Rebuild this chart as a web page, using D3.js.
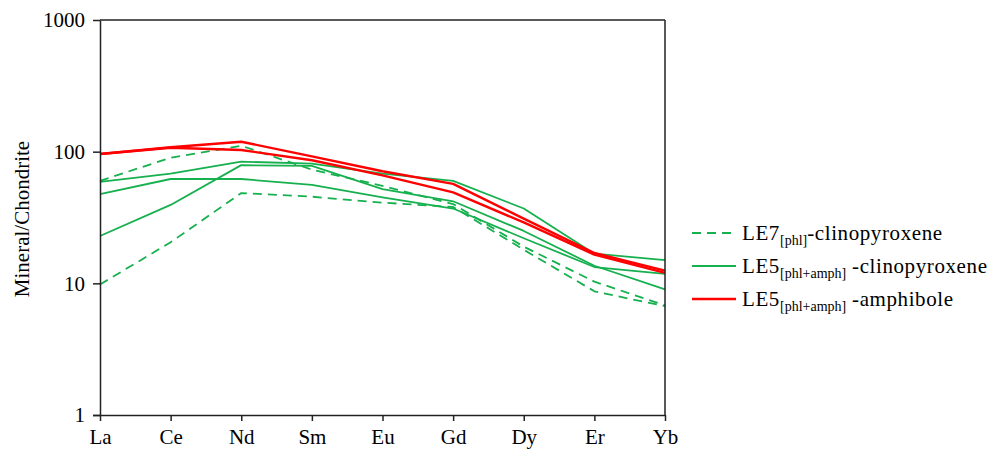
<!DOCTYPE html>
<html>
<head>
<meta charset="utf-8">
<script src="https://cdn.jsdelivr.net/npm/d3@7"></script>
<style>
  html, body { margin: 0; padding: 0; background: #fff; }
  svg { display: block; }
  text { font-family: "Liberation Serif", "Times New Roman", serif; fill: #000; }
</style>
</head>
<body>
<svg id="chart" width="994" height="450"></svg>
<script>
const elements = ["La", "Ce", "Nd", "Sm", "Eu", "Gd", "Dy", "Er", "Yb"];
const yTicks = [1, 10, 100, 1000];
const yLabel = "Mineral/Chondrite";

// LE7[phl] clinopyroxene (dashed green)
const le7Cpx1 = [60, 90, 111, 73, 55, 40, 19, 10.3, 6.8];
const le7Cpx2 = [9.8, 20.5, 48.5, 45.5, 41, 38, 18, 8.7, 6.7];
// LE5[phl+amph] clinopyroxene (solid green)
const le5Cpx1 = [59, 68, 84, 81, 68, 60, 37, 16.8, 15];
const le5Cpx2 = [47.5, 62, 62, 56, 45, 37, 22, 13.3, 11.8];
const le5Cpx3 = [22.9, 39.4, 79, 78, 52, 42, 25, 13.6, 9.0];
// LE5[phl+amph] amphibole (red)
const le5Amph1 = [96, 108, 119, 92, 71, 57, 31, 17, 12.5];
const le5Amph2 = [96, 107, 103, 86, 66, 49, 29, 16.5, 12];

const legendItems = [
  { main: "LE7", sub: "[phl]", rest: "-clinopyroxene", type: "cpx7" },
  { main: "LE5", sub: "[phl+amph]", rest: " -clinopyroxene", type: "cpx5" },
  { main: "LE5", sub: "[phl+amph]", rest: " -amphibole", type: "amph" }
];

const FONT = "'Liberation Serif', 'Times New Roman', serif";
const GREEN = "#16b04e";
const RED = "#ff0000";
const styles = {
  cpx7: { color: GREEN, width: 1.8, dash: "9,6" },
  cpx5: { color: GREEN, width: 1.8, dash: null },
  amph: { color: RED, width: 2.4, dash: null }
};

const series = [
  { values: le7Cpx1, type: "cpx7" },
  { values: le7Cpx2, type: "cpx7" },
  { values: le5Cpx1, type: "cpx5" },
  { values: le5Cpx2, type: "cpx5" },
  { values: le5Cpx3, type: "cpx5" },
  { values: le5Amph1, type: "amph" },
  { values: le5Amph2, type: "amph" }
];

const svg = d3.select("#chart");
const mLeft = 100, mRight = 665, mTop = 20, mBottom = 415;

const x = d3.scalePoint().domain(elements).range([mLeft, mRight]);
const y = d3.scaleLog().domain([1, 1000]).range([mBottom, mTop]);

const AX = "#222";

const line = d3.line()
  .x((d, i) => x(elements[i]))
  .y(d => y(d));

svg.append("g").selectAll("path")
  .data(series)
  .join("path")
  .attr("d", d => line(d.values))
  .attr("fill", "none")
  .attr("stroke", d => styles[d.type].color)
  .attr("stroke-width", d => styles[d.type].width)
  .attr("stroke-dasharray", d => styles[d.type].dash)
  .attr("stroke-linejoin", "round");

// frame: top & right
svg.append("line").attr("x1", mLeft).attr("x2", mRight).attr("y1", mTop).attr("y2", mTop)
  .attr("stroke", AX).attr("stroke-width", 1.5);
svg.append("line").attr("x1", mRight).attr("x2", mRight).attr("y1", mTop).attr("y2", mBottom)
  .attr("stroke", AX).attr("stroke-width", 1.5);

// left axis
const yAxis = svg.append("g").attr("transform", `translate(${mLeft},0)`)
  .call(d3.axisLeft(y).tickValues(yTicks).tickFormat(d3.format("d")).tickSize(7).tickSizeOuter(0).tickPadding(8));
yAxis.attr("font-family", FONT);
yAxis.select(".domain").attr("stroke", AX).attr("stroke-width", 1.5);
yAxis.selectAll(".tick line").attr("stroke", AX).attr("stroke-width", 1.5);
yAxis.selectAll(".tick text").attr("font-size", 21).attr("font-family", FONT).attr("fill", "#000");

// bottom axis
const xAxis = svg.append("g").attr("transform", `translate(0,${mBottom})`)
  .call(d3.axisBottom(x).tickSize(6).tickSizeOuter(0).tickPadding(8));
xAxis.attr("font-family", FONT);
xAxis.select(".domain").attr("stroke", AX).attr("stroke-width", 1.5).attr("d", `M${mLeft - 7},0.5H${mRight}`);
xAxis.selectAll(".tick line").attr("stroke", AX).attr("stroke-width", 1.5);
xAxis.selectAll(".tick text").attr("font-size", 21).attr("font-family", FONT).attr("fill", "#000");

// y label
svg.append("text")
  .attr("transform", `translate(29,219) rotate(-90)`)
  .attr("text-anchor", "middle")
  .attr("font-family", FONT)
  .attr("font-size", 21)
  .text(yLabel);

// legend
const lg = svg.append("g");
const ly0 = 233, lstep = 33;
legendItems.forEach((it, i) => {
  const yy = ly0 + i * lstep;
  const st = styles[it.type];
  lg.append("line")
    .attr("x1", 692).attr("x2", 736).attr("y1", yy).attr("y2", yy)
    .attr("stroke", st.color).attr("stroke-width", st.width)
    .attr("stroke-dasharray", st.dash);
  const t = lg.append("text").attr("x", 742).attr("y", yy + 7)
    .attr("font-family", FONT).attr("font-size", 21).attr("letter-spacing", 0.6);
  t.append("tspan").text(it.main);
  t.append("tspan").attr("font-size", 14).attr("dy", 5).attr("letter-spacing", 0).text(it.sub);
  t.append("tspan").attr("dy", -5).text(it.rest);
});
</script>
</body>
</html>
